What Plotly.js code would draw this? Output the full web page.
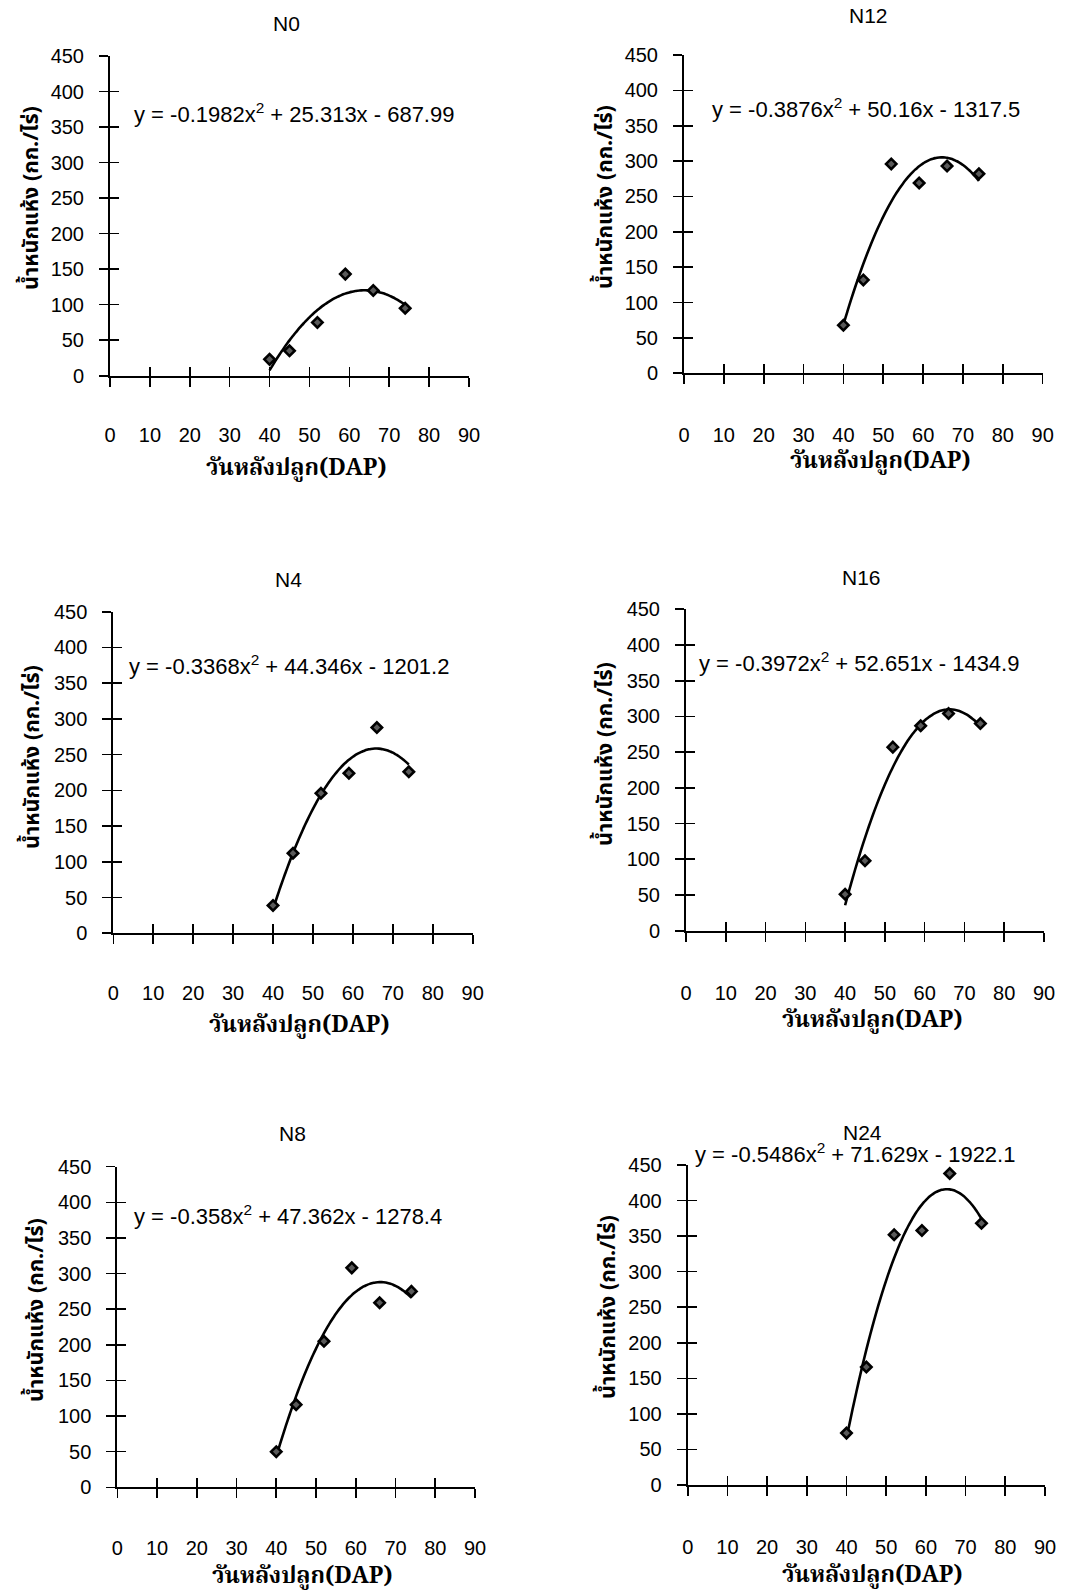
<!DOCTYPE html>
<html>
<head>
<meta charset="utf-8">
<script src="https://cdn.plot.ly/plotly-3.0.1.min.js"></script>
<style>html,body{margin:0;padding:0;background:#fff;}#chart{width:1067px;height:1596px;}</style>
</head>
<body>
<div id="chart"></div>
<script>
// ---- data ----
const panelNames = ["N0", "N12", "N4", "N16", "N8", "N24"];
const days = [40, 45, 52, 59, 66, 74];
const N0  = [23, 35, 75, 143, 120, 95];
const N12 = [68, 132, 296, 269, 293, 282];
const N4  = [39, 112, 196, 224, 288, 226];
const N16 = [51, 98, 257, 287, 304, 290];
const N8  = [50, 116, 205, 308, 259, 275];
const N24 = [73, 166, 352, 358, 438, 368];
// printed trendline coefficients [a, b, c] for y = a x^2 + b x + c
const coefN0  = [-0.1982, 25.313, -687.99];
const coefN12 = [-0.3876, 50.16, -1317.5];
const coefN4  = [-0.3368, 44.346, -1201.2];
const coefN16 = [-0.3972, 52.651, -1434.9];
const coefN8  = [-0.358, 47.362, -1278.4];
const coefN24 = [-0.5486, 71.629, -1922.1];
const equationTexts = [
  "y = -0.1982x<sup>2</sup> + 25.313x - 687.99",
  "y = -0.3876x<sup>2</sup> + 50.16x - 1317.5",
  "y = -0.3368x<sup>2</sup> + 44.346x - 1201.2",
  "y = -0.3972x<sup>2</sup> + 52.651x - 1434.9",
  "y = -0.358x<sup>2</sup> + 47.362x - 1278.4",
  "y = -0.5486x<sup>2</sup> + 71.629x - 1922.1"
];
const xTickVals = [0, 10, 20, 30, 40, 50, 60, 70, 80, 90];
const yTickVals = [0, 50, 100, 150, 200, 250, 300, 350, 400, 450];
const xTitle = "วันหลังปลูก(DAP)";
const yTitle = "น้ำหนักแห้ง (กก./ไร่)";

const series = [N0, N12, N4, N16, N8, N24];
const coefs = [coefN0, coefN12, coefN4, coefN16, coefN8, coefN24];

// ---- layout geometry (pixels) ----
const W = 1067, H = 1596;
const boxes = [ // left, right, top, bottom of plot area
  [110, 469, 56, 375.7],
  [684, 1042.7, 55, 373.3],
  [113.3, 472.7, 611.7, 933.3],
  [686, 1044, 609.3, 930.7],
  [117.3, 475, 1166.7, 1487.3],
  [687.7, 1045, 1165, 1485]
];
const titlePos = [[286, 23], [868, 15], [288, 580], [861, 577], [292, 1133], [862, 1132]];
const eqPos = [[132, 113], [710, 108], [127, 665], [697, 662], [132, 1215], [693, 1153]];
const yTitlePos = [[31, 198], [605, 197], [32, 757], [606, 754], [36, 1310], [608, 1307]];
const xTitlePos = [[296, 469], [880, 462], [299, 1026], [872, 1021], [302, 1577], [872, 1576]];
const xLabelY = [435, 435, 993, 993, 1548, 1547];

const px = v => v / W;
const py = v => 1 - v / H;

const FONT = "Liberation Sans, Arial, sans-serif";
const THAI_SANS = "Noto Sans Thai, Loma, Garuda, Norasi, Noto Sans, sans-serif";
const THAI_SERIF = "Noto Serif Thai, Norasi, Liberation Serif, serif";

const traces = [];
const layout = {
  width: W, height: H,
  margin: {l: 0, r: 0, t: 0, b: 0},
  paper_bgcolor: "#fff", plot_bgcolor: "rgba(0,0,0,0)",
  showlegend: false,
  annotations: []
};

for (let i = 0; i < 6; i++) {
  const n = i + 1, o = i + 7, q = i + 13;
  const [l, r, t, b] = boxes[i];
  const xs = "x" + n, ys = "y" + n;
  const c = coefs[i];
  const fx = [], fy = [];
  const xmin = Math.min(...days), xmax = Math.max(...days);
  for (let k = 0; k <= 68; k++) {
    const x = xmin + (xmax - xmin) * k / 68;
    fx.push(x); fy.push(c[0] * x * x + c[1] * x + c[2]);
  }
  traces.push({x: fx, y: fy, xaxis: xs, yaxis: ys, mode: "lines",
    line: {color: "#000", width: 2.6, shape: "spline"}, hoverinfo: "skip", cliponaxis: false});
  traces.push({x: days, y: series[i], xaxis: xs, yaxis: ys, mode: "markers", cliponaxis: false,
    marker: {symbol: "diamond", size: 8, color: "#5a5a5a", line: {color: "#000", width: 2.6}}});
  traces.push({x: [null], y: [null], xaxis: "x" + o, yaxis: "y" + o, mode: "markers", hoverinfo: "skip"});
  traces.push({x: [null], y: [null], xaxis: "x" + q, yaxis: ys, mode: "markers", hoverinfo: "skip"});

  layout["xaxis" + n] = {
    domain: [px(l), px(r)], anchor: ys, range: [0, 90], fixedrange: true,
    tickvals: xTickVals, showticklabels: false,
    ticks: "outside", ticklen: 9, tickwidth: 1.6, tickcolor: "#000",
    showline: true, linecolor: "#000", linewidth: 2,
    showgrid: false, zeroline: false
  };
  layout["yaxis" + n] = {
    domain: [py(b), py(t)], anchor: xs, range: [0, 450], fixedrange: true,
    tickvals: yTickVals, ticktext: yTickVals.map(String),
    ticks: "outside", ticklen: 9, tickwidth: 1.6, tickcolor: "#000",
    showline: true, linecolor: "#000", linewidth: 2,
    showgrid: false, zeroline: false,
    tickfont: {family: FONT, size: 20, color: "#000"},
    ticklabelstandoff: 11
  };
  layout["xaxis" + o] = {
    domain: [px(l), px(r)], overlaying: xs, anchor: "y" + o, range: [0, 90], fixedrange: true,
    tickvals: xTickVals, ticks: "inside", ticklen: 9, tickwidth: 1.6, tickcolor: "#000",
    showticklabels: false, showline: false, showgrid: false, zeroline: false
  };
  layout["yaxis" + o] = {
    domain: [py(b), py(t)], overlaying: ys, anchor: "x" + o, range: [0, 450], fixedrange: true,
    tickvals: yTickVals, ticks: "inside", ticklen: 9, tickwidth: 1.6, tickcolor: "#000",
    showticklabels: false, showline: false, showgrid: false, zeroline: false
  };
  // tick-label carrier axis, placed lower like the original
  layout["xaxis" + q] = {
    domain: [px(l), px(r)], overlaying: xs, anchor: "free", position: py(xLabelY[i] - 14),
    side: "bottom", range: [0, 90], fixedrange: true,
    tickvals: xTickVals, ticktext: xTickVals.map(String), ticks: "",
    showline: false, showgrid: false, zeroline: false,
    tickfont: {family: FONT, size: 20, color: "#000"}
  };

  layout.annotations.push({
    text: panelNames[i], xref: "paper", yref: "paper",
    x: px(titlePos[i][0]), y: py(titlePos[i][1]), xanchor: "center", yanchor: "middle",
    showarrow: false, font: {family: FONT, size: 21, color: "#000"}
  });
  layout.annotations.push({
    text: equationTexts[i], xref: "paper", yref: "paper",
    x: px(eqPos[i][0]), y: py(eqPos[i][1]), xanchor: "left", yanchor: "middle",
    showarrow: false, font: {family: FONT, size: 22, color: "#000"}
  });
  layout.annotations.push({
    text: "<b>" + yTitle + "</b>", xref: "paper", yref: "paper", textangle: -90,
    x: px(yTitlePos[i][0]), y: py(yTitlePos[i][1]), xanchor: "center", yanchor: "middle",
    showarrow: false, font: {family: THAI_SANS, size: 21.5, color: "#000"}
  });
  layout.annotations.push({
    text: "<b>" + xTitle + "</b>", xref: "paper", yref: "paper",
    x: px(xTitlePos[i][0]), y: py(xTitlePos[i][1]), xanchor: "center", yanchor: "middle",
    showarrow: false, font: {family: THAI_SERIF, size: 23, color: "#000"}
  });
}

Plotly.newPlot("chart", traces, layout, {staticPlot: true, displayModeBar: false});
</script>
</body>
</html>
